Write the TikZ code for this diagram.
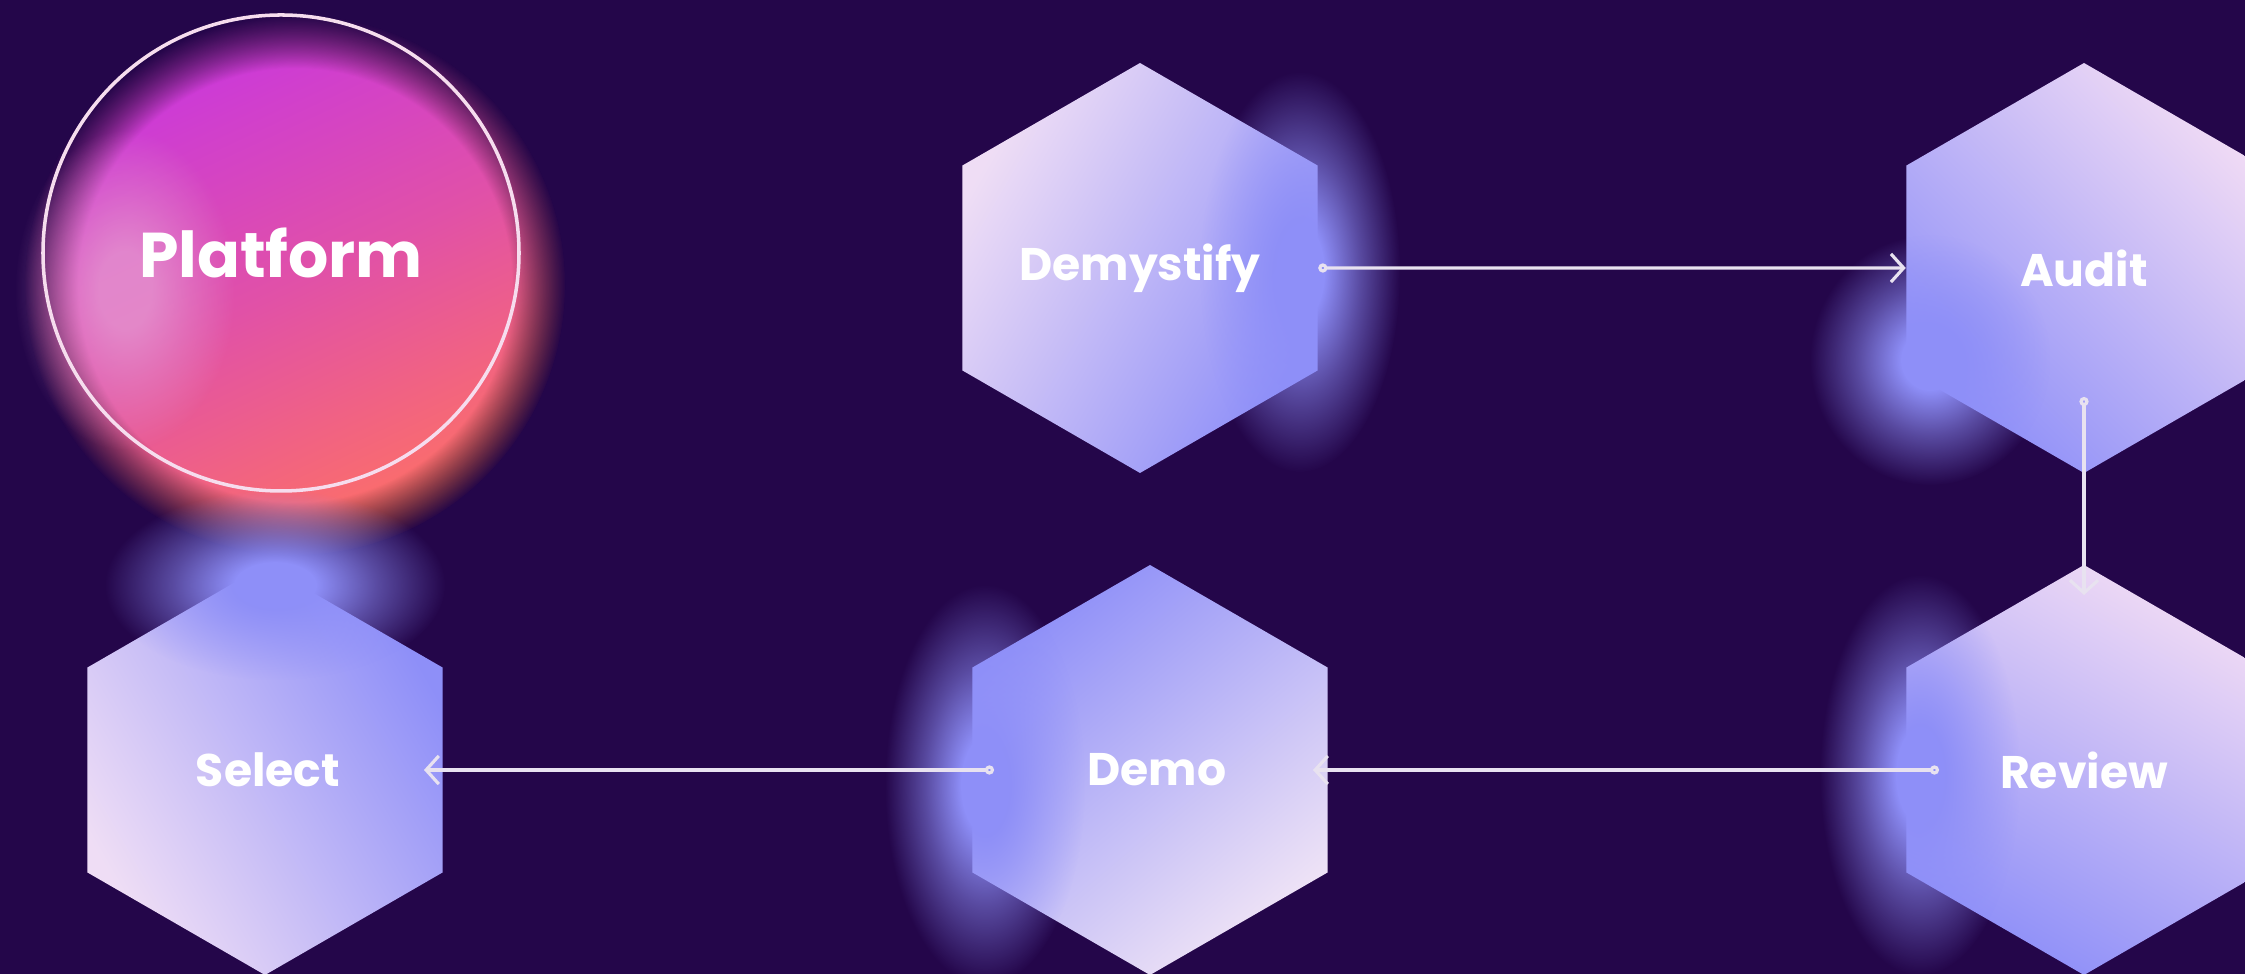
\documentclass[tikz,border=0pt]{standalone}
\usepackage{fontspec}
\setmainfont{Poppins}
\usetikzlibrary{arrows.meta,shapes.geometric,fadings}

\definecolor{bgpurple}{HTML}{24064A}
\definecolor{hexwhite}{HTML}{EEEAF6}
\definecolor{hexpink}{HTML}{F0C6F4}
\definecolor{hexlav}{HTML}{C2A6F7}
\definecolor{glowblue}{HTML}{8E8FF8}
\definecolor{blobmag}{HTML}{C836E0}
\definecolor{blobcoral}{HTML}{FF7262}
\definecolor{blobpink}{HTML}{E6A0D4}
\definecolor{ringcol}{HTML}{F6DDEE}
\definecolor{linecol}{HTML}{E8E2F0}

\pgfdeclareradialshading{glowmask}{\pgfpointorigin}{color(0bp)=(white); color(6bp)=(white); color(15bp)=(white!50!black); color(25bp)=(black); color(50bp)=(black)}
\pgfdeclarefading{glowfade}{\pgfuseshading{glowmask}}

\begin{document}
\begin{tikzpicture}[
    hexfill/.style={regular polygon, regular polygon sides=6, shape border rotate=30,
      minimum size=41mm, inner sep=0pt},
    hexbox/.style={regular polygon, regular polygon sides=6, shape border rotate=30,
      minimum size=41mm, inner sep=0pt, text=white, font=\bfseries\fontsize{13}{15}\selectfont},
    glow/.style={fill=glowblue, path fading=glowfade},
    flow/.style={draw=linecol, line width=0.9pt,
      {Circle[open,length=2.6pt,width=2.6pt]}-{Straight Barb[length=3.6pt,width=8pt]}}
  ]
  \fill[bgpurple] (0,0) rectangle (22.45,-9.74);
  \useasboundingbox (0,0) rectangle (22.45,-9.74);

  \fill[top color=blobmag, bottom color=blobcoral, middle color=blobmag!55!blobcoral, shading angle=25,
    path fading=circle with fuzzy edge 20 percent] (2.95,-2.85) circle (2.7);
  \fill[blobpink, path fading=glowfade, opacity=0.7] (1.25,-2.9) ellipse (1.1 and 1.6);

  \node[hexfill, top color=hexwhite!65!hexpink, middle color=hexlav, bottom color=glowblue,
    shading angle=60] (demys-hex) at (11.40,-2.68) {};
  \node[hexfill, top color=hexpink!45!hexwhite, middle color=hexlav, bottom color=glowblue,
    shading angle=-45] (audit-hex) at (20.84,-2.68) {};
  \node[hexfill, top color=hexpink!45!hexwhite, middle color=hexlav, bottom color=glowblue,
    shading angle=-30] (review-hex) at (20.84,-7.70) {};
  \node[hexfill, top color=hexwhite!80!hexpink, middle color=hexlav, bottom color=glowblue,
    shading angle=-140] (demo-hex) at (11.50,-7.70) {};
  \node[hexfill, top color=hexwhite!65!hexpink, middle color=hexlav, bottom color=glowblue,
    shading angle=120] (select-hex) at (2.65,-7.70) {};

  \fill[glow] (13.00,-2.72) ellipse (1.0 and 2.0);
  \fill[glow] (19.30,-3.60) ellipse (1.2 and 1.25);
  \fill[glow] (19.20,-7.75) ellipse (1.0 and 2.0);
  \fill[glow] (9.85,-7.85) ellipse (1.0 and 2.0);
  \fill[glow] (2.75,-5.85) ellipse (1.7 and 0.95);

  \node[hexbox] (demys) at (11.40,-2.68) {Demystify};
  \node[hexbox] (audit) at (20.84,-2.68) {Audit};
  \node[hexbox] (review) at (20.84,-7.70) {Review};
  \node[hexbox] (demo) at (11.57,-7.70) {Demo};
  \node[hexbox] (select) at (2.68,-7.70) {Select};

  \node[circle, draw=ringcol, line width=1pt, minimum size=4.76cm, inner sep=0pt, text=white,
    font=\bfseries\fontsize{18}{21}\selectfont] (plat) at (2.81,-2.53) {Platform};

  \draw[flow] (demys) -- (audit);
  \draw[flow] ([yshift=-12.9mm]audit.center) -- ([yshift=17.5mm]review.center);
  \draw[flow] ([xshift=-14.5mm]review.center) -- ([xshift=15.6mm]demo.center);
  \draw[flow] ([xshift=-16.3mm]demo.center) -- ([xshift=15.6mm]select.center);
\end{tikzpicture}
\end{document}
